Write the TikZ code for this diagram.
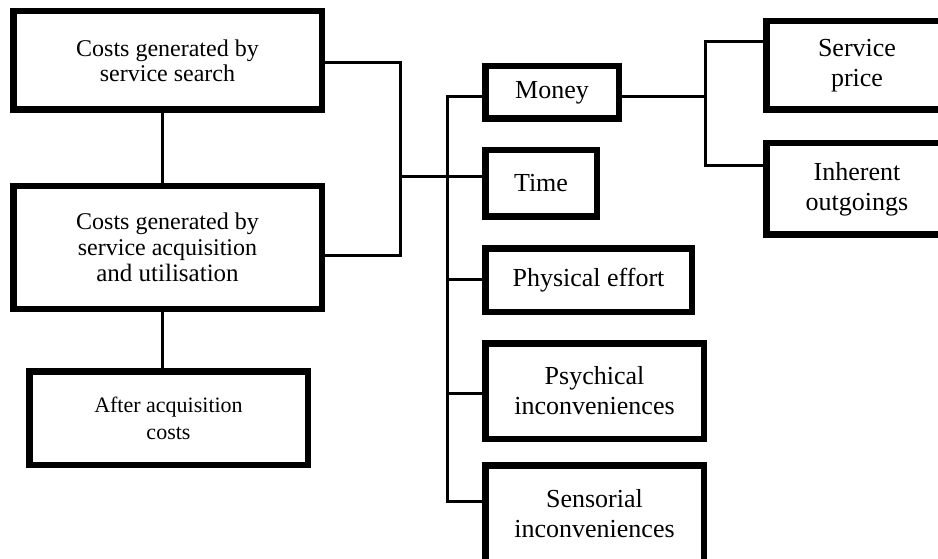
\documentclass[tikz,border=0pt]{standalone}
\usepackage{fontspec}
\setmainfont{Liberation Serif}
\usepackage{tikz}
\tikzset{
  costbox/.style={draw,line width=6.5pt,inner sep=0pt,align=center},
  bigtext/.style={font=\fontsize{26}{30}\selectfont},
  lefttext/.style={font=\fontsize{24}{25}\selectfont},
  link/.style={line width=3pt}
}

\begin{document}
\begin{tikzpicture}[x=1pt,y=-1pt]
    \useasboundingbox (0,0) rectangle (938,559);
    % left column
    \node[costbox,lefttext,minimum width=308.5pt,minimum height=98.5pt] (search) at (167.5,60.5) {Costs generated by\\service search};
    \node[costbox,lefttext,minimum width=308.5pt,minimum height=122.5pt,font=\fontsize{24}{26}\selectfont] (acq) at (167.5,247.5) {Costs generated by\\service acquisition\\{\fontsize{25}{26}\selectfont and utilisation}};
    \node[costbox,minimum width=278.5pt,minimum height=93.5pt,font=\fontsize{22}{27}\selectfont] (after) at (168.5,418) {After acquisition\\costs};
    \draw[link] ([xshift=-5.5pt]search.south) -- ([xshift=-5.5pt]acq.north);
    \draw[link] ([xshift=-5.5pt]acq.south) -- ([xshift=-5.5pt]acq.south |- after.north);
    % middle column
    \node[costbox,bigtext,minimum width=133.5pt,minimum height=52.5pt] (money) at (552,92.5) {Money};
    \node[costbox,bigtext,minimum width=111.5pt,minimum height=66.5pt] (time) at (541,183.5) {Time};
    \node[costbox,bigtext,minimum width=206.5pt,minimum height=63.5pt] (phys) at (588.5,280) {Physical effort};
    \node[costbox,bigtext,minimum width=218.5pt,minimum height=95.5pt] (psych) at (594.5,391) {Psychical\\inconveniences};
    \node[costbox,bigtext,minimum width=218.5pt,minimum height=97.5pt] (sens) at (594.5,514) {Sensorial\\inconveniences};
    % right column
    \node[costbox,bigtext,minimum width=181.5pt,minimum height=88.5pt] (price) at (857,65.5) {Service\\price};
    \node[costbox,bigtext,minimum width=181.5pt,minimum height=91.5pt] (outgo) at (857,189) {Inherent\\outgoings};
    % bracket from the left boxes
    \coordinate (brk1) at (400,63);
    \coordinate (brk2) at (400,255);
    \coordinate (brk) at (400,177);
    \draw[link] (brk1 -| search.east) -- (brk1) -- (brk2) -- (brk2 -| acq.east);
    \draw[link] (brk) -- (brk -| time.west);
    % bus to the cost kinds
    \coordinate (bus1) at (447,97);
    \coordinate (bus3) at (447,279);
    \coordinate (bus4) at (447,393);
    \coordinate (bus5) at (447,501);
    \draw[link] (bus1 -| money.west) -- (bus1) -- (bus5) -- (bus5 -| sens.west);
    \foreach \b/\n in {bus3/phys,bus4/psych}
      \draw[link] (\b) -- (\b -| \n.west);
    % fork from money
    \coordinate (fork) at (705,97);
    \coordinate (fk1) at (705,42);
    \coordinate (fk2) at (705,166);
    \draw[link] (fork -| money.east) -- (fork);
    \draw[link] (fk1 -| price.west) -- (fk1) -- (fk2) -- (fk2 -| outgo.west);
\end{tikzpicture}
\end{document}
